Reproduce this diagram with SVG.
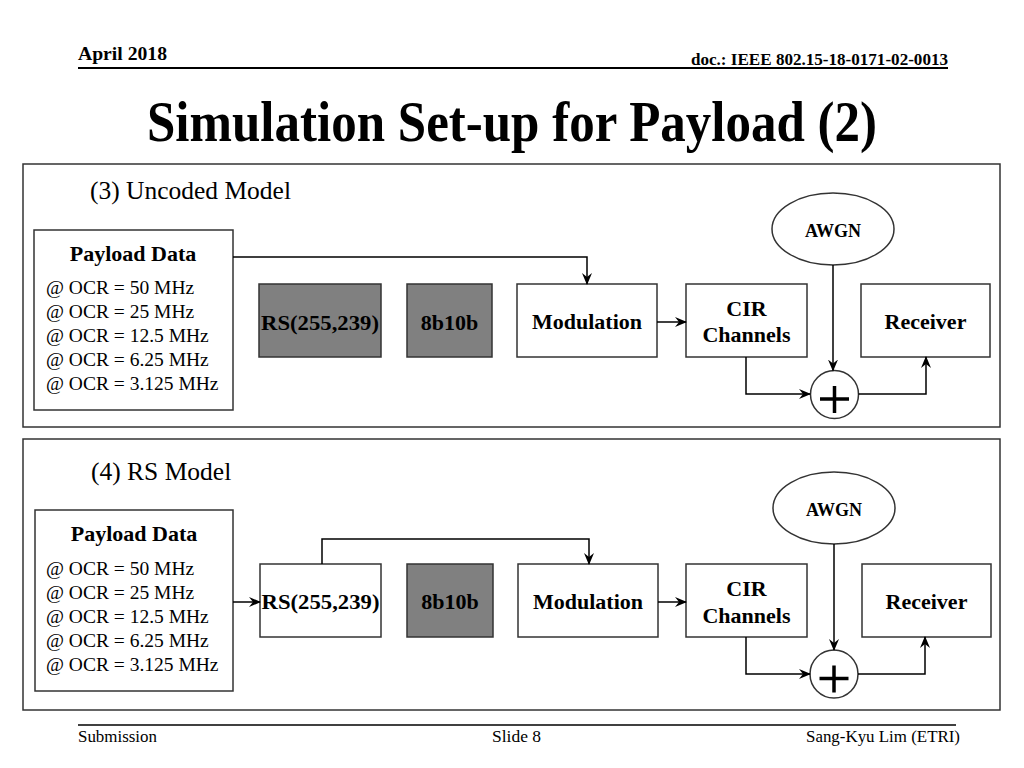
<svg xmlns="http://www.w3.org/2000/svg" width="1024" height="768" viewBox="0 0 1024 768">
<defs>
<style>
.t{font-family:"Liberation Serif","Times New Roman",serif;fill:#000}
.b{font-weight:bold}
.panel{fill:#fff;stroke:#333;stroke-width:1.5}
.box{fill:#fff;stroke:#333;stroke-width:1.5}
.gray{fill:#808080;stroke:#333;stroke-width:1.5}
.ln{fill:none;stroke:#000;stroke-width:1.5}
.nl{font-size:22px;font-weight:bold;text-anchor:middle}
.ocr{font-size:19.5px}
</style>
<marker id="ah" viewBox="0 0 12 10" refX="11" refY="5" markerWidth="12" markerHeight="10" markerUnits="userSpaceOnUse" orient="auto">
<path d="M0,0 L12,5 L0,10 L4,5 z" fill="#000"/>
</marker>
</defs>
<rect width="1024" height="768" fill="#fff"/>

<g id="header">
<text class="t b" x="78" y="60" font-size="18" textLength="89" lengthAdjust="spacingAndGlyphs">April 2018</text>
<text class="t b" x="691" y="65" font-size="17" textLength="257" lengthAdjust="spacingAndGlyphs">doc.: IEEE 802.15-18-0171-02-0013</text>
<line x1="78" y1="68" x2="948" y2="68" stroke="#000" stroke-width="2"/>
<text class="t b" x="147" y="141" font-size="57" textLength="730" lengthAdjust="spacingAndGlyphs">Simulation Set-up for Payload (2)</text>
</g>

<g id="footer">
<line x1="78" y1="725" x2="956" y2="725" stroke="#000" stroke-width="1.5"/>
<text class="t" x="78" y="742" font-size="16.5" textLength="79" lengthAdjust="spacingAndGlyphs">Submission</text>
<text class="t" x="492" y="742" font-size="16.5" textLength="49" lengthAdjust="spacingAndGlyphs">Slide 8</text>
<text class="t" x="806" y="742" font-size="16.5" textLength="154" lengthAdjust="spacingAndGlyphs">Sang-Kyu Lim (ETRI)</text>
</g>

<!-- Panel 3 -->
<g id="panel3">
<rect class="panel" x="23" y="164" width="977" height="263"/>
<text class="t" x="90" y="199" font-size="25.5" textLength="201" lengthAdjust="spacingAndGlyphs">(3) Uncoded Model</text>
</g>
<g id="payload3">
<rect class="box" x="34" y="230" width="199" height="180"/>
<text class="t b" x="133" y="261" font-size="22" text-anchor="middle">Payload Data</text>
<text class="t ocr" x="46" y="294">@ OCR = 50 MHz</text>
<text class="t ocr" x="46" y="318">@ OCR = 25 MHz</text>
<text class="t ocr" x="46" y="342">@ OCR = 12.5 MHz</text>
<text class="t ocr" x="46" y="366">@ OCR = 6.25 MHz</text>
<text class="t ocr" x="46" y="390">@ OCR = 3.125 MHz</text>
</g>
<g id="rs3">
<rect class="gray" x="259" y="284" width="122" height="73"/>
<text class="t nl" x="320" y="330" textLength="118" lengthAdjust="spacingAndGlyphs">RS(255,239)</text>
</g>
<g id="enc3">
<rect class="gray" x="407" y="284" width="85" height="73"/>
<text class="t nl" x="449.5" y="330">8b10b</text>
</g>
<g id="mod3">
<rect class="box" x="517" y="284" width="140" height="73"/>
<text class="t nl" x="587" y="329">Modulation</text>
</g>
<g id="cir3">
<rect class="box" x="686" y="284" width="121" height="73"/>
<text class="t nl" x="746.5" y="316">CIR</text>
<text class="t nl" x="746.5" y="342">Channels</text>
</g>
<g id="rx3">
<rect class="box" x="861" y="284" width="129" height="73"/>
<text class="t nl" x="925.5" y="329">Receiver</text>
</g>
<g id="awgn3">
<ellipse class="box" cx="833" cy="229" rx="61" ry="36"/>
<text class="t b" x="833" y="237" font-size="18" text-anchor="middle">AWGN</text>
</g>
<g id="sum3">
<circle class="box" cx="834.5" cy="394.5" r="24"/>
<line x1="820" y1="399" x2="849" y2="399" stroke="#000" stroke-width="3.5"/>
<line x1="834.5" y1="386" x2="834.5" y2="413" stroke="#000" stroke-width="3.5"/>
</g>

<!-- Panel 4 -->
<g id="panel4">
<rect class="panel" x="23" y="439" width="977" height="271"/>
<text class="t" x="91" y="480" font-size="25.5">(4) RS Model</text>
</g>
<g id="payload4">
<rect class="box" x="35" y="510" width="198" height="181"/>
<text class="t b" x="134" y="541" font-size="22" text-anchor="middle">Payload Data</text>
<text class="t ocr" x="46" y="575">@ OCR = 50 MHz</text>
<text class="t ocr" x="46" y="599">@ OCR = 25 MHz</text>
<text class="t ocr" x="46" y="623">@ OCR = 12.5 MHz</text>
<text class="t ocr" x="46" y="647">@ OCR = 6.25 MHz</text>
<text class="t ocr" x="46" y="671">@ OCR = 3.125 MHz</text>
</g>
<g id="rs4">
<rect class="box" x="260" y="564" width="121" height="73"/>
<text class="t nl" x="320.5" y="609" textLength="118" lengthAdjust="spacingAndGlyphs">RS(255,239)</text>
</g>
<g id="enc4">
<rect class="gray" x="407" y="564" width="86" height="73"/>
<text class="t nl" x="450" y="609">8b10b</text>
</g>
<g id="mod4">
<rect class="box" x="518" y="564" width="140" height="73"/>
<text class="t nl" x="588" y="609">Modulation</text>
</g>
<g id="cir4">
<rect class="box" x="686" y="564" width="121" height="73"/>
<text class="t nl" x="746.5" y="596">CIR</text>
<text class="t nl" x="746.5" y="623">Channels</text>
</g>
<g id="rx4">
<rect class="box" x="862" y="564" width="129" height="73"/>
<text class="t nl" x="926.5" y="609">Receiver</text>
</g>
<g id="awgn4">
<ellipse class="box" cx="834" cy="508" rx="61" ry="36"/>
<text class="t b" x="834" y="516" font-size="18" text-anchor="middle">AWGN</text>
</g>
<g id="sum4">
<circle class="box" cx="834" cy="674" r="24"/>
<line x1="819.5" y1="678.5" x2="848.5" y2="678.5" stroke="#000" stroke-width="3.5"/>
<line x1="834" y1="665.5" x2="834" y2="692.5" stroke="#000" stroke-width="3.5"/>
</g>

<g id="connectors">
<polyline class="ln" points="233,257 587,257 587,284" marker-end="url(#ah)"/>
<line class="ln" x1="657" y1="322" x2="686" y2="322" marker-end="url(#ah)"/>
<polyline class="ln" points="746,357 746,394 810,394" marker-end="url(#ah)"/>
<line class="ln" x1="833" y1="265" x2="833" y2="370.5" marker-end="url(#ah)"/>
<polyline class="ln" points="858.5,394 926,394 926,357" marker-end="url(#ah)"/>

<line class="ln" x1="233" y1="602" x2="260" y2="602" marker-end="url(#ah)"/>
<polyline class="ln" points="322,564 322,539 589,539 589,564" marker-end="url(#ah)"/>
<line class="ln" x1="658" y1="602" x2="686" y2="602" marker-end="url(#ah)"/>
<polyline class="ln" points="746,637 746,674 810,674" marker-end="url(#ah)"/>
<line class="ln" x1="834" y1="544" x2="834" y2="650" marker-end="url(#ah)"/>
<polyline class="ln" points="858,674 925,674 925,637" marker-end="url(#ah)"/>
</g>
</svg>
